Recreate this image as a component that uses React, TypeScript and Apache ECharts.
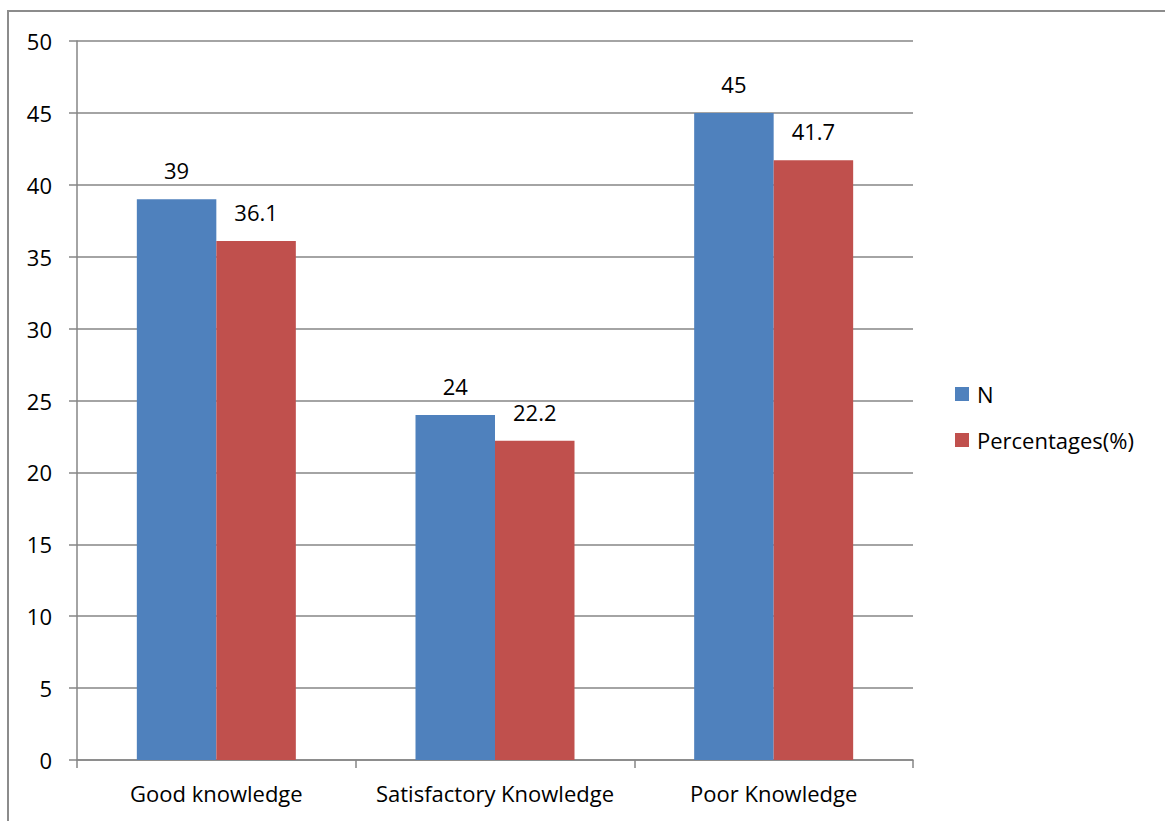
import React, { useEffect, useRef } from "react";
import * as echarts from "echarts";

const categories = ["Good knowledge", "Satisfactory Knowledge", "Poor Knowledge"];
const nValues = [39, 24, 45];
const pctValues = [36.1, 22.2, 41.7];
const seriesNames = ["N", "Percentages(%)"];

const FONT = "'Open Sans', 'Noto Sans', sans-serif";
const FS = 22;

export default function App() {
  const ref = useRef<HTMLDivElement>(null);
  useEffect(() => {
    if (!ref.current) return;
    const chart = echarts.init(ref.current, undefined, { renderer: "svg" });
    const labelStyle = {
      show: true,
      position: "top" as const,
      distance: 18,
      color: "#000",
      fontSize: FS,
      fontFamily: FONT,
    };
    chart.setOption({
      animation: false,
      backgroundColor: "#fff",
      graphic: [
        {
          type: "rect",
          shape: { x: 8, y: 11, width: 1200, height: 900 },
          style: { fill: "none", stroke: "#8c8c8c", lineWidth: 2 },
          silent: true,
        },
      ],
      grid: { left: 77, right: 252, top: 41, bottom: 61, containLabel: false },
      legend: {
        orient: "vertical",
        left: 955,
        top: 383,
        padding: 0,
        itemWidth: 14,
        itemHeight: 14,
        itemGap: 24,
        icon: "rect",
        textStyle: { fontSize: FS, fontFamily: FONT, color: "#000", padding: [0, 0, 0, 3] },
        data: seriesNames,
      },
      xAxis: {
        type: "category",
        data: categories,
        axisLine: { lineStyle: { color: "#868686", width: 1.5 } },
        axisTick: { show: true, length: 8, alignWithLabel: false, lineStyle: { color: "#868686", width: 1.5 } },
        axisLabel: { interval: 0, fontSize: FS, fontFamily: FONT, color: "#000", margin: 22 },
      },
      yAxis: {
        type: "value",
        min: 0,
        max: 50,
        interval: 5,
        axisLine: { show: true, lineStyle: { color: "#868686", width: 1.5 } },
        axisTick: { show: true, length: 8, lineStyle: { color: "#868686", width: 1.5 } },
        splitLine: { lineStyle: { color: "#868686", width: 1.5 } },
        axisLabel: { fontSize: FS, fontFamily: FONT, color: "#000", margin: 25 },
      },
      series: [
        {
          name: seriesNames[0],
          type: "bar",
          data: nValues,
          barWidth: 79.5,
          barGap: "0%",
          itemStyle: { color: "#4F81BD" },
          label: labelStyle,
        },
        {
          name: seriesNames[1],
          type: "bar",
          data: pctValues,
          barWidth: 79.5,
          barGap: "0%",
          itemStyle: { color: "#C0504D" },
          label: labelStyle,
        },
      ],
    });
    return () => chart.dispose();
  }, []);
  return (
    <div
      ref={ref}
      style={{ position: "fixed", left: 0, top: 0, width: 1165, height: 821 }}
    />
  );
}
